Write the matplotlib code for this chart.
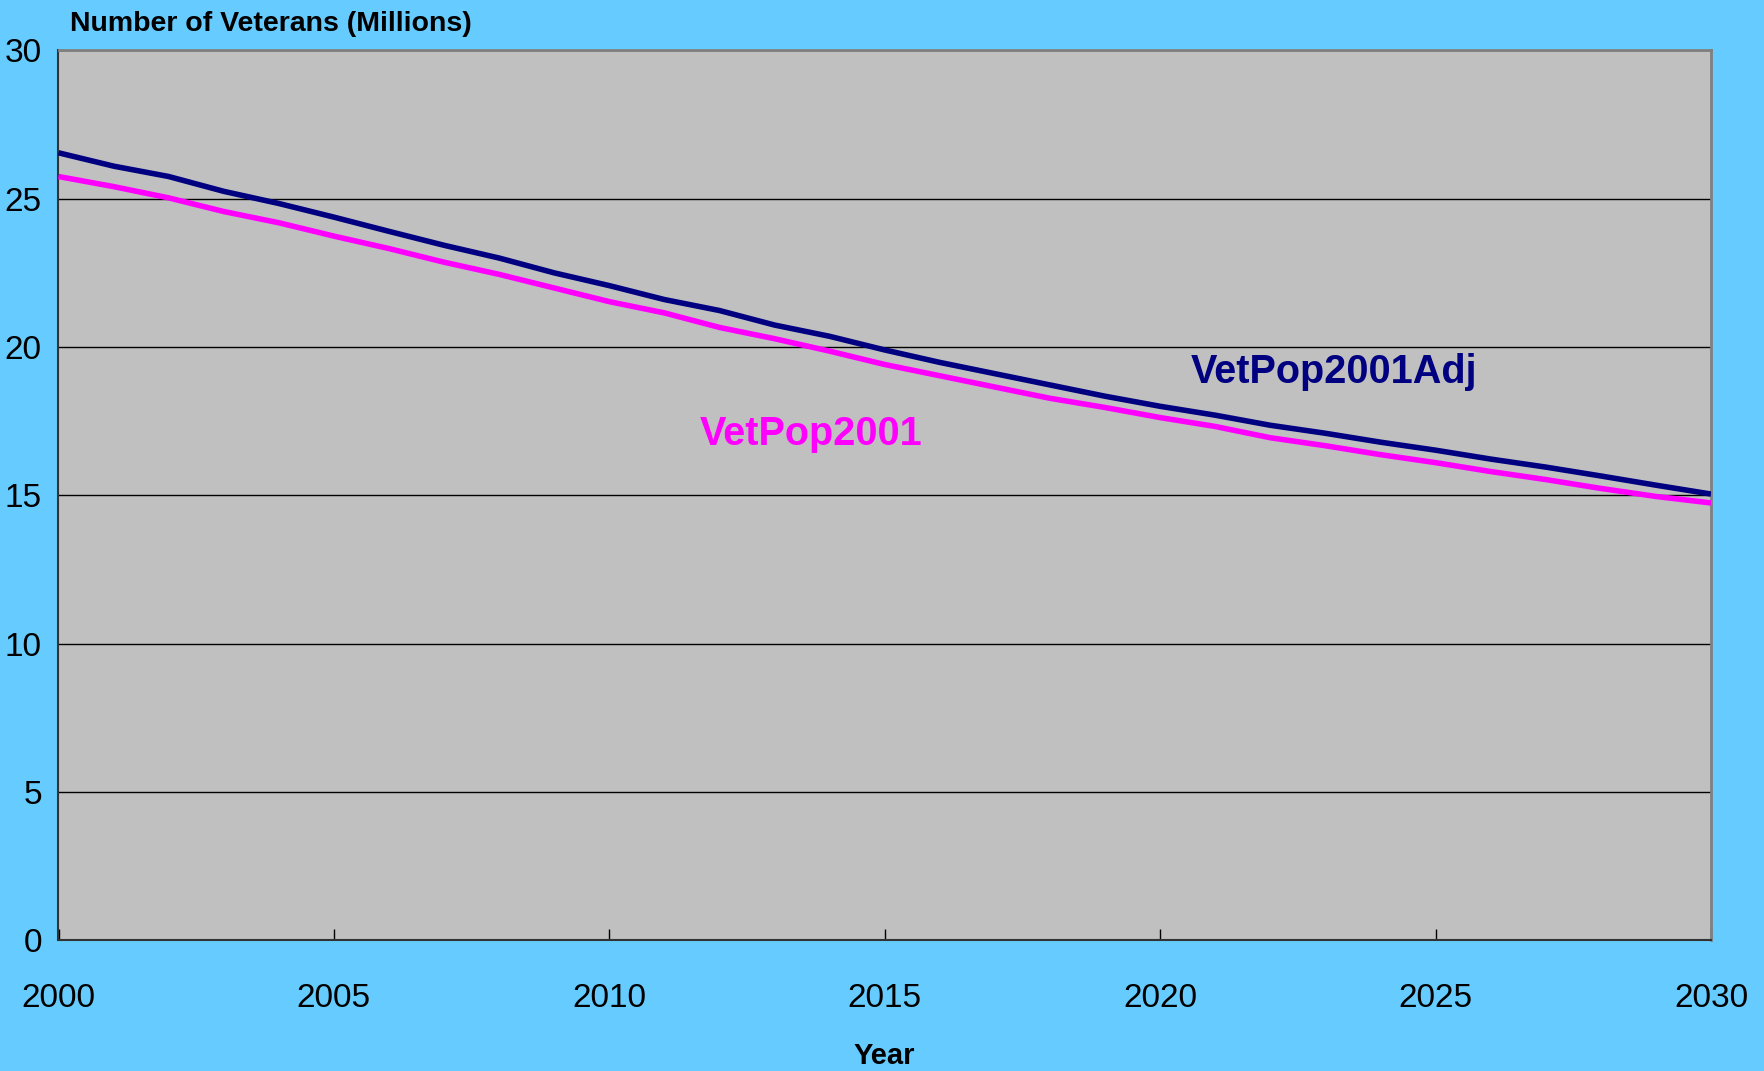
import matplotlib.pyplot as plt
from matplotlib import font_manager

# Veteran population projections (millions)
years = list(range(2000, 2031))
vetpop2001_adj = [26.55, 26.10, 25.75, 25.25, 24.84, 24.38, 23.90, 23.43, 23.00, 22.50,
                  22.07, 21.60, 21.23, 20.74, 20.36, 19.90, 19.48, 19.10, 18.72, 18.34,
                  18.00, 17.70, 17.36, 17.09, 16.79, 16.52, 16.22, 15.95, 15.65, 15.34,
                  15.04]
vetpop2001 = [25.75, 25.41, 25.03, 24.57, 24.19, 23.74, 23.32, 22.86, 22.45, 21.99,
              21.53, 21.15, 20.66, 20.28, 19.86, 19.41, 19.03, 18.65, 18.27, 17.96,
              17.62, 17.32, 16.94, 16.67, 16.37, 16.10, 15.80, 15.53, 15.23, 14.96,
              14.74]
x_ticks = [2000, 2005, 2010, 2015, 2020, 2025, 2030]
y_ticks = [0, 5, 10, 15, 20, 25, 30]

names = {f.name for f in font_manager.fontManager.ttflist}
fam = ['Liberation Sans Narrow'] if 'Liberation Sans Narrow' in names else ['Liberation Sans']
plt.rcParams['font.family'] = fam + ['DejaVu Sans']

bg = '#66CCFF'
fig = plt.figure(figsize=(17.65, 10.71), dpi=100, facecolor=bg)
ax = fig.add_axes([58.5 / 1765, 1 - 940 / 1071, (1711 - 58.5) / 1765, (940 - 50.5) / 1071])
ax.set_facecolor('#C0C0C0')

ax.plot(years, vetpop2001_adj, color='#000080', lw=4, solid_capstyle='butt', zorder=3)
ax.plot(years, vetpop2001, color='#FF00FF', lw=4, solid_capstyle='butt', zorder=3)

ax.set_xlim(2000, 2030)
ax.set_ylim(0, 30)
ax.set_xticks(x_ticks)
ax.set_yticks(y_ticks)
ax.grid(axis='y', color='black', lw=1)
ax.set_axisbelow(True)
ax.tick_params(axis='x', direction='in', length=8, width=1, pad=31, labelsize=24)
ax.tick_params(axis='y', length=0, pad=12, labelsize=24)

for s in ['left', 'bottom']:
    ax.spines[s].set_color('#333333')
    ax.spines[s].set_linewidth(1.5)
for s in ['top', 'right']:
    ax.spines[s].set_color('#808080')
    ax.spines[s].set_linewidth(2)

ax.text(2011.65, 17.05, 'VetPop2001', color='#FF00FF', fontsize=28.5, fontweight='bold',
        ha='left', va='center')
ax.text(2020.56, 19.14, 'VetPop2001Adj', color='#000080', fontsize=28.5, fontweight='bold',
        ha='left', va='center')

fig.text(70 / 1765, 1 - 24 / 1071, 'Number of Veterans (Millions)', fontsize=20.5,
         fontweight='bold', ha='left', va='center')
fig.text(884 / 1765, 1 - 1056 / 1071, 'Year', fontsize=21,
         fontweight='bold', ha='center', va='center')

fig.savefig('out.png', dpi=100, facecolor=bg)
